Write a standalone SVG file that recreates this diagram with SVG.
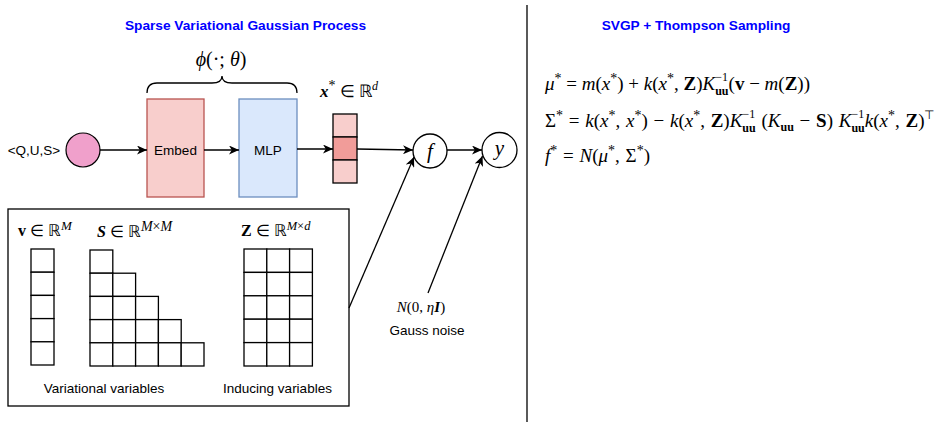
<svg xmlns="http://www.w3.org/2000/svg" width="941" height="429" viewBox="0 0 941 429">
<defs>
<marker id="arr" markerUnits="userSpaceOnUse" markerWidth="11" markerHeight="9" refX="10" refY="4.5" orient="auto">
<path d="M0,0 L10,4.5 L0,9 L2.8,4.5 Z" fill="#000"/>
</marker>
<style>
.title{font-family:"Liberation Sans",Arial,sans-serif;font-weight:bold;font-size:13.7px;fill:#0000ff;text-anchor:middle}
.lbl{font-family:"Liberation Sans",Arial,sans-serif;font-size:13.5px;fill:#000;text-anchor:middle}
.m{font-family:"Liberation Serif","Times New Roman",serif;fill:#000}
.i{font-style:italic}
.b{font-weight:bold}
.sup{font-size:12px}
.ast{font-size:14px}
.sub{font-size:12px;font-weight:bold}
.eq{font-size:19px;word-spacing:1px}
.cell{fill:#fff;stroke:#000;stroke-width:1.3}
.edge{fill:none;stroke:#000;stroke-width:1.3}
</style>
</defs>
<rect width="941" height="429" fill="#fff"/>

<g id="titles">
<text class="title" x="245.5" y="30">Sparse Variational Gaussian Process</text>
<text class="title" x="696" y="30">SVGP + Thompson Sampling</text>
</g>

<g id="divider"><line x1="527" y1="5" x2="527" y2="422" stroke="#000" stroke-width="1.3"/></g>

<g id="phi">
<text class="m" x="221" y="66" font-size="20" text-anchor="middle"><tspan class="i">ϕ</tspan>(·; <tspan class="i">θ</tspan>)</text>
<path class="edge" d="M147,93 Q147,83 157,83 L212,83 Q222,83 222,76 Q222,83 232,83 L287,83 Q297,83 297,93"/>
</g>

<g id="input">
<text class="lbl" x="34" y="155">&lt;Q,U,S&gt;</text>
<circle cx="83" cy="150" r="17" fill="#f0a0cb" stroke="#000" stroke-width="1.2"/>
</g>

<g id="embed">
<rect x="147" y="99" width="57" height="98" fill="#f8cecc" stroke="#b85450" stroke-width="1.3"/>
<text class="lbl" x="175.5" y="155">Embed</text>
</g>

<g id="mlp">
<rect x="239" y="99" width="58" height="98" fill="#dae8fc" stroke="#6c8ebf" stroke-width="1.3"/>
<text class="lbl" x="268" y="155">MLP</text>
</g>

<g id="xstar">
<text class="m" x="320" y="97" font-size="17"><tspan class="i b">x</tspan><tspan class="ast" dy="-7">*</tspan><tspan dy="7"> ∈ ℝ</tspan><tspan class="sup i" font-size="13" dy="-7">d</tspan></text>
<rect x="333" y="114" width="24" height="23" fill="#f8cecc" stroke="#000" stroke-width="1.3"/>
<rect x="333" y="137" width="24" height="23" fill="#f19c99" stroke="#000" stroke-width="1.3"/>
<rect x="333" y="160" width="24" height="23" fill="#f8cecc" stroke="#000" stroke-width="1.3"/>
</g>

<g id="f">
<circle cx="430" cy="151" r="17" fill="#fff" stroke="#000" stroke-width="1.3"/>
<text class="m i" x="430" y="158" font-size="21" text-anchor="middle">f</text>
</g>

<g id="y">
<circle cx="499.5" cy="150" r="17.5" fill="#fff" stroke="#000" stroke-width="1.3"/>
<text class="m i" x="499.5" y="155" font-size="21" text-anchor="middle">y</text>
</g>

<g id="noise">
<text class="m" x="421" y="312" font-size="15" text-anchor="middle"><tspan class="i">N</tspan>(0, <tspan class="i">η</tspan><tspan class="i b">I</tspan>)</text>
<text class="lbl" x="427" y="335">Gauss noise</text>
</g>

<g id="variables">
<rect x="8" y="209" width="341" height="197" fill="none" stroke="#000" stroke-width="1.3"/>
<text class="m" x="18" y="236" font-size="16"><tspan class="b">v</tspan> ∈ ℝ<tspan class="i" font-size="13" dy="-6">M</tspan></text>
<text class="m" x="97" y="237" font-size="16"><tspan class="i b">S</tspan> ∈ ℝ<tspan class="i" font-size="14" dy="-6">M</tspan><tspan font-size="14">×</tspan><tspan class="i" font-size="14">M</tspan></text>
<text class="m" x="241" y="236" font-size="16"><tspan class="b">Z</tspan> ∈ ℝ<tspan class="i" font-size="12.5" dy="-6">M</tspan><tspan font-size="12.5">×</tspan><tspan class="i" font-size="12.5">d</tspan></text>
<g id="v-vec">
<rect class="cell" x="31" y="249" width="23" height="23.2"/>
<rect class="cell" x="31" y="272.2" width="23" height="23.2"/>
<rect class="cell" x="31" y="295.4" width="23" height="23.2"/>
<rect class="cell" x="31" y="318.6" width="23" height="23.2"/>
<rect class="cell" x="31" y="341.8" width="23" height="23.2"/>
</g>
<g id="S-mat">
<rect class="cell" x="90" y="250" width="22.8" height="23.2"/>
<rect class="cell" x="90" y="273.2" width="22.8" height="23.2"/>
<rect class="cell" x="112.8" y="273.2" width="22.8" height="23.2"/>
<rect class="cell" x="90" y="296.4" width="22.8" height="23.2"/>
<rect class="cell" x="112.8" y="296.4" width="22.8" height="23.2"/>
<rect class="cell" x="135.6" y="296.4" width="22.8" height="23.2"/>
<rect class="cell" x="90" y="319.6" width="22.8" height="23.2"/>
<rect class="cell" x="112.8" y="319.6" width="22.8" height="23.2"/>
<rect class="cell" x="135.6" y="319.6" width="22.8" height="23.2"/>
<rect class="cell" x="158.4" y="319.6" width="22.8" height="23.2"/>
<rect class="cell" x="90" y="342.8" width="22.8" height="23.2"/>
<rect class="cell" x="112.8" y="342.8" width="22.8" height="23.2"/>
<rect class="cell" x="135.6" y="342.8" width="22.8" height="23.2"/>
<rect class="cell" x="158.4" y="342.8" width="22.8" height="23.2"/>
<rect class="cell" x="181.2" y="342.8" width="22.8" height="23.2"/>
</g>
<g id="Z-mat">
<rect class="cell" x="244" y="249" width="22.8" height="23.4"/>
<rect class="cell" x="266.8" y="249" width="22.8" height="23.4"/>
<rect class="cell" x="289.6" y="249" width="22.8" height="23.4"/>
<rect class="cell" x="244" y="272.4" width="22.8" height="23.4"/>
<rect class="cell" x="266.8" y="272.4" width="22.8" height="23.4"/>
<rect class="cell" x="289.6" y="272.4" width="22.8" height="23.4"/>
<rect class="cell" x="244" y="295.8" width="22.8" height="23.4"/>
<rect class="cell" x="266.8" y="295.8" width="22.8" height="23.4"/>
<rect class="cell" x="289.6" y="295.8" width="22.8" height="23.4"/>
<rect class="cell" x="244" y="319.2" width="22.8" height="23.4"/>
<rect class="cell" x="266.8" y="319.2" width="22.8" height="23.4"/>
<rect class="cell" x="289.6" y="319.2" width="22.8" height="23.4"/>
<rect class="cell" x="244" y="342.6" width="22.8" height="23.4"/>
<rect class="cell" x="266.8" y="342.6" width="22.8" height="23.4"/>
<rect class="cell" x="289.6" y="342.6" width="22.8" height="23.4"/>
</g>
<text class="lbl" x="104" y="393">Variational variables</text>
<text class="lbl" x="277.5" y="393">Inducing variables</text>
</g>

<g id="connectors">
<line class="edge" x1="100" y1="150" x2="147" y2="150" marker-end="url(#arr)"/>
<line class="edge" x1="204" y1="150" x2="239" y2="150" marker-end="url(#arr)"/>
<line class="edge" x1="297" y1="149" x2="333" y2="149" marker-end="url(#arr)"/>
<line class="edge" x1="357" y1="149" x2="413" y2="150" marker-end="url(#arr)"/>
<line class="edge" x1="447" y1="150" x2="482" y2="150" marker-end="url(#arr)"/>
<line class="edge" x1="349" y1="308" x2="414" y2="157" marker-end="url(#arr)"/>
<line class="edge" x1="428" y1="293" x2="482.5" y2="156" marker-end="url(#arr)"/>
</g>

<g id="equations">
<text class="m eq" x="545" y="90" style="word-spacing:0"><tspan class="i">μ</tspan><tspan class="ast" dy="-7">*</tspan><tspan dy="7"> = </tspan><tspan class="i">m</tspan>(<tspan class="i">x</tspan><tspan class="ast" dy="-7">*</tspan><tspan dy="7">) + </tspan><tspan class="i">k</tspan>(<tspan class="i">x</tspan><tspan class="ast" dy="-7">*</tspan><tspan dy="7">, </tspan><tspan class="b">Z</tspan>)<tspan class="i">K</tspan><tspan class="sup" dy="-9">−1</tspan><tspan class="sub" dx="-12.8" dy="14">uu</tspan><tspan dy="-5">(</tspan><tspan class="b">v</tspan> − <tspan class="i">m</tspan>(<tspan class="b">Z</tspan>))</text>
<text class="m eq" x="545" y="127">Σ<tspan class="ast" dy="-7">*</tspan><tspan dy="7"> = </tspan><tspan class="i">k</tspan>(<tspan class="i">x</tspan><tspan class="ast" dy="-7">*</tspan><tspan dy="7">, </tspan><tspan class="i">x</tspan><tspan class="ast" dy="-7">*</tspan><tspan dy="7">) − </tspan><tspan class="i">k</tspan>(<tspan class="i">x</tspan><tspan class="ast" dy="-7">*</tspan><tspan dy="7">, </tspan><tspan class="b">Z</tspan>)<tspan class="i">K</tspan><tspan class="sup" dy="-9">−1</tspan><tspan class="sub" dx="-12.8" dy="14">uu</tspan><tspan dy="-5"> (</tspan><tspan class="i">K</tspan><tspan class="sub" dy="4">uu</tspan><tspan dy="-4"> − </tspan><tspan class="b">S</tspan>) <tspan class="i">K</tspan><tspan class="sup" dy="-9">−1</tspan><tspan class="sub" dx="-12.8" dy="14">uu</tspan><tspan class="i" dy="-5">k</tspan>(<tspan class="i">x</tspan><tspan class="ast" dy="-7">*</tspan><tspan dy="7">, </tspan><tspan class="b">Z</tspan>)<tspan class="sup" dy="-8">⊤</tspan></text>
<text class="m eq" x="545" y="162"><tspan class="i">f</tspan><tspan class="ast" dy="-7">*</tspan><tspan dy="7"> = </tspan><tspan class="i">N</tspan>(<tspan class="i">μ</tspan><tspan class="ast" dy="-7">*</tspan><tspan dy="7">, Σ</tspan><tspan class="ast" dy="-7">*</tspan><tspan dy="7">)</tspan></text>
</g>
</svg>
